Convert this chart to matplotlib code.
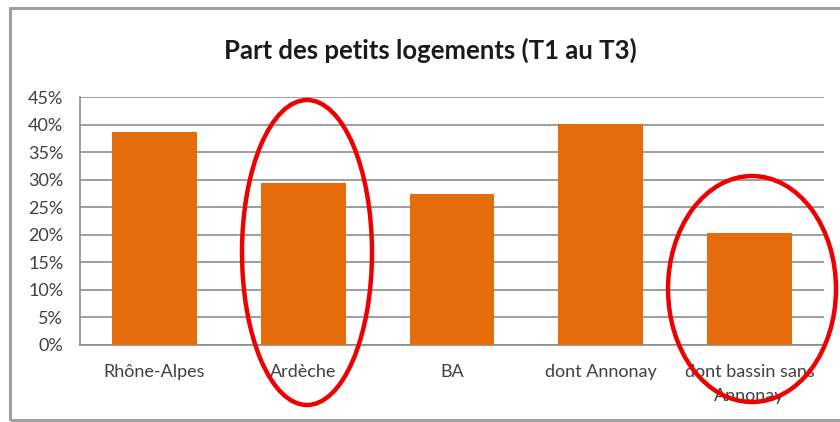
import matplotlib.pyplot as plt
from matplotlib.patches import Ellipse, Rectangle
from matplotlib.ticker import PercentFormatter

# data
categories = ["Rhône-Alpes", "Ardèche", "BA", "dont Annonay", "dont bassin sans\nAnnonay"]
part_petits = [38.6, 29.4, 27.4, 40.1, 20.3]

plt.rcParams['font.family'] = ['Lato', 'DejaVu Sans']

fig = plt.figure(figsize=(8.4, 4.22), dpi=100)
ax = fig.add_axes([0.0952, 0.1825, 0.8858, 0.5876])

x = range(len(categories))
ax.bar(x, part_petits, width=0.57, color='#E46C0A', zorder=3)

ax.set_xlim(-0.5, len(categories) - 0.5)
ax.set_ylim(0, 45)
ax.set_yticks(range(0, 46, 5))
ax.yaxis.set_major_formatter(PercentFormatter(decimals=0))
ax.set_xticks(list(x))
ax.set_xticklabels(categories, fontsize=13, color='#404040', linespacing=1.6)
ax.tick_params(axis='x', length=0, pad=14)
ax.tick_params(axis='y', length=0, pad=12, labelsize=13, labelcolor='#404040')
ax.grid(axis='y', color='#8c8c8c', lw=1.2, zorder=0)
for side in ['top', 'right']:
    ax.spines[side].set_visible(False)
for side in ['left', 'bottom']:
    ax.spines[side].set_color('#8c8c8c')
    ax.spines[side].set_linewidth(1.2)

fig.text(0.512, 0.88, "Part des petits logements (T1 au T3)", ha='center', va='center',
         fontsize=18.5, fontweight='bold', color='#1a1a1a')

# red circles drawn over the chart (figure pixel coords)
W, H = 840, 422
for cx, cy, w, h in [(307, 252.5, 130, 305), (752, 289, 168, 226)]:
    fig.patches.append(Ellipse((cx / W, 1 - cy / H), w / W, h / H, fill=False,
                               edgecolor='#ee0000', lw=3.2, transform=fig.transFigure,
                               zorder=10))

# frame of the chart area (right edge is off the picture)
fig.patches.append(Rectangle((10 / W, 2 / H), 840 / W, 412 / H, fill=False,
                             edgecolor='#a0a0a0', lw=2.2, transform=fig.transFigure))

fig.savefig('out.png', dpi=100)
